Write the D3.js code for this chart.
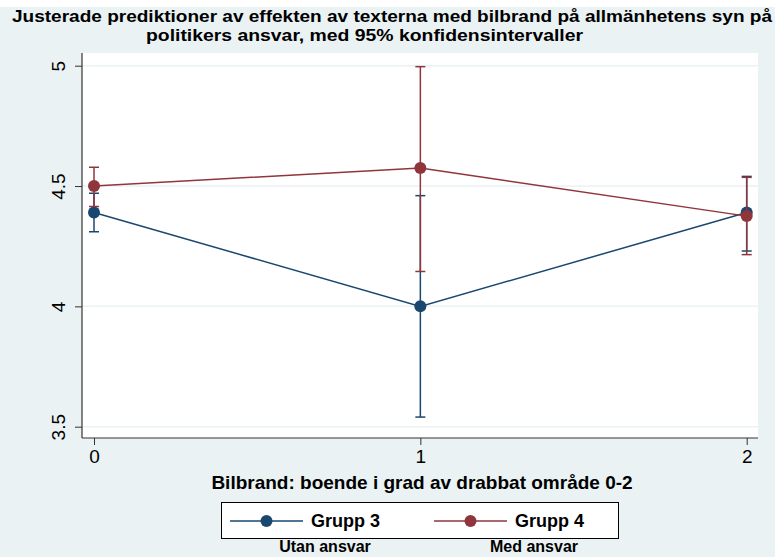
<!DOCTYPE html>
<html>
<head>
<meta charset="utf-8">
<script src="https://cdn.jsdelivr.net/npm/d3@7"></script>
<style>
  body { margin: 0; background: #fff; }
  text { font-family: "Liberation Sans", Arial, Helvetica, sans-serif; }
</style>
</head>
<body>
<div id="chart"></div>
<script>
// data
const xValues = [0, 1, 2];
const yTicks = [3.5, 4, 4.5, 5];
const grupp3 = [4.39, 4.0, 4.39];
const grupp3Low = [4.31, 3.54, 4.23];
const grupp3High = [4.47, 4.46, 4.54];
const grupp4 = [4.5, 4.575, 4.375];
const grupp4Low = [4.415, 4.145, 4.215];
const grupp4High = [4.578, 4.996, 4.536];
const seriesNames = ["Grupp 3", "Grupp 4"];
const legendNotes = ["Utan ansvar", "Med ansvar"];

const W = 775, H = 557;
const navy = "#1a476f", maroon = "#90353b";
const plotLeft = 82, plotRight = 758, plotTop = 53, plotBottom = 438;

const svg = d3.select("#chart")
    .append("svg")
    .attr("width", W)
    .attr("height", H);

// graph region background
svg.append("rect")
    .attr("x", 0).attr("y", 7)
    .attr("width", W).attr("height", H - 7)
    .attr("fill", "#eaf2f3");

svg.append("rect")
    .attr("x", plotLeft).attr("y", plotTop)
    .attr("width", plotRight - plotLeft).attr("height", plotBottom - plotTop)
    .attr("fill", "#fff");

// title
svg.append("text")
    .attr("x", 12).attr("y", 22)
    .attr("textLength", 760)
    .attr("lengthAdjust", "spacingAndGlyphs")
    .style("font-size", "17px").style("font-weight", "bold")
    .text("Justerade prediktioner av effekten av texterna med bilbrand på allmänhetens syn på");
svg.append("text")
    .attr("x", 146).attr("y", 41)
    .attr("textLength", 437)
    .attr("lengthAdjust", "spacingAndGlyphs")
    .style("font-size", "17px").style("font-weight", "bold")
    .text("politikers ansvar, med 95% konfidensintervaller");

const xScale = d3.scaleLinear().domain([0, 2]).range([94, 746.7]);
const yScale = d3.scaleLinear().domain([3.5, 5]).range([426.7, 65.7]);

// gridlines
svg.selectAll(".grid")
    .data(yTicks)
    .enter()
    .append("line")
    .attr("class", "grid")
    .attr("x1", plotLeft).attr("x2", plotRight)
    .attr("y1", d => yScale(d)).attr("y2", d => yScale(d))
    .attr("stroke", "#eaf2f3").attr("stroke-width", 1.5);

// y axis
const yAxis = svg.append("g")
    .attr("transform", `translate(${plotLeft},0)`)
    .call(d3.axisLeft(yScale).tickValues(yTicks).tickFormat(d3.format("")).tickSize(7));
yAxis.select(".domain").remove();
yAxis.selectAll(".tick line").attr("stroke", "#333");
yAxis.selectAll(".tick text")
    .attr("transform", "rotate(-90)")
    .attr("x", 0).attr("y", -17)
    .attr("dy", 0)
    .style("text-anchor", "middle")
    .style("font-size", "19px")
    .attr("fill", "#000");
svg.append("line")
    .attr("x1", plotLeft).attr("x2", plotLeft)
    .attr("y1", plotTop).attr("y2", plotBottom)
    .attr("stroke", "#333").attr("stroke-width", 1.2);

// x axis
const xAxis = svg.append("g")
    .attr("transform", `translate(0,${plotBottom})`)
    .call(d3.axisBottom(xScale).tickValues(xValues).tickFormat(d3.format("d")).tickSize(7));
xAxis.select(".domain").remove();
xAxis.selectAll(".tick line").attr("stroke", "#333");
xAxis.selectAll(".tick text")
    .attr("y", 12)
    .style("font-size", "19px")
    .attr("fill", "#000");
svg.append("line")
    .attr("x1", plotLeft).attr("x2", plotRight)
    .attr("y1", plotBottom).attr("y2", plotBottom)
    .attr("stroke", "#333").attr("stroke-width", 1.2);

svg.append("text")
    .attr("x", 422).attr("y", 489)
    .style("text-anchor", "middle")
    .style("font-size", "19px").style("font-weight", "bold")
    .text("Bilbrand: boende i grad av drabbat område 0-2");

// series
const series = [
    { name: seriesNames[0], color: navy, y: grupp3, lo: grupp3Low, hi: grupp3High },
    { name: seriesNames[1], color: maroon, y: grupp4, lo: grupp4Low, hi: grupp4High }
];

const line = d3.line()
    .x((d, i) => xScale(xValues[i]))
    .y(d => yScale(d));

series.forEach(s => {
    const g = svg.append("g");
    // error bars
    xValues.forEach((x, i) => {
        const cx = xScale(x);
        g.append("line")
            .attr("x1", cx).attr("x2", cx)
            .attr("y1", yScale(s.lo[i])).attr("y2", yScale(s.hi[i]))
            .attr("stroke", s.color).attr("stroke-width", 1.5);
        [s.lo[i], s.hi[i]].forEach(v => {
            g.append("line")
                .attr("x1", cx - 5).attr("x2", cx + 5)
                .attr("y1", yScale(v)).attr("y2", yScale(v))
                .attr("stroke", s.color).attr("stroke-width", 1.5);
        });
    });
    g.append("path")
        .datum(s.y)
        .attr("d", line)
        .attr("fill", "none")
        .attr("stroke", s.color)
        .attr("stroke-width", 1.5);
    g.selectAll("circle")
        .data(s.y)
        .enter()
        .append("circle")
        .attr("cx", (d, i) => xScale(xValues[i]))
        .attr("cy", d => yScale(d))
        .attr("r", 6)
        .attr("fill", s.color);
});

// legend
svg.append("rect")
    .attr("x", 221.5).attr("y", 502.5)
    .attr("width", 397).attr("height", 36)
    .attr("fill", "#fff")
    .attr("stroke", "#000").attr("stroke-width", 1);

const legendX = [230, 434];
series.forEach((s, i) => {
    const lx = legendX[i];
    svg.append("line")
        .attr("x1", lx).attr("x2", lx + 73)
        .attr("y1", 521).attr("y2", 521)
        .attr("stroke", s.color).attr("stroke-width", 1.5);
    svg.append("circle")
        .attr("cx", lx + 36.5).attr("cy", 521).attr("r", 6)
        .attr("fill", s.color);
    svg.append("text")
        .attr("x", lx + 81).attr("y", 527)
        .style("font-size", "18px").style("font-weight", "bold")
        .text(s.name);
});

const noteX = [325, 534];
legendNotes.forEach((t, i) => {
    svg.append("text")
        .attr("x", noteX[i]).attr("y", 552)
        .style("text-anchor", "middle")
        .style("font-size", "16px").style("font-weight", "bold")
        .text(t);
});
</script>
</body>
</html>
